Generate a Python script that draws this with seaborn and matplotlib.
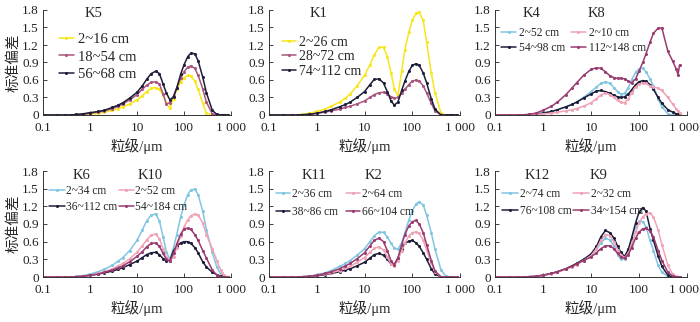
import numpy as np
import pandas as pd
import matplotlib
matplotlib.use("Agg")
import matplotlib.pyplot as plt
from matplotlib.ticker import NullLocator
from matplotlib.transforms import ScaledTranslation
import seaborn as sns

sns.set_style("ticks")
plt.rcParams["font.family"] = ["Liberation Serif", "Noto Sans CJK SC"]
plt.rcParams["xtick.direction"] = "in"
plt.rcParams["ytick.direction"] = "in"
plt.rcParams["axes.unicode_minus"] = False

nan = np.nan

# ---------------- data ----------------
size_um = [0.1, 0.2, 0.3, 0.4, 0.5, 0.7,
           1, 1.5, 2, 3, 4, 5, 7,
           10, 13, 16, 20, 25, 30, 36, 42, 50, 60, 70, 85,
           100, 120, 140, 170, 200, 250, 300, 400, 500, 600, 650, 700, 850]

x_ticks = [0.1, 1, 10, 100, 1000]
x_tick_labels = ["0.1", "1", "10", "100", "1 000"]
y_ticks = [0, 0.3, 0.6, 0.9, 1.2, 1.5, 1.8]
y_tick_labels = ["0", "0.3", "0.6", "0.9", "1.2", "1.5", "1.8"]

x_label = "粒级/μm"
y_label = "标准偏差"

# K5
k5_2_16 = [0, 0, 0, 0, 0, 0.005,
           0.015, 0.03, 0.05, 0.08, 0.11, 0.14, 0.19,
           0.26, 0.33, 0.40, 0.46, 0.47, 0.44, 0.34, 0.20, 0.12, 0.28, 0.44, 0.57,
           0.64, 0.68, 0.67, 0.58, 0.44, 0.20, 0.03, 0, 0, 0, 0, 0, 0]
k5_18_54 = [0, 0, 0, 0, 0.005, 0.01,
            0.03, 0.05, 0.07, 0.11, 0.15, 0.19, 0.26,
            0.35, 0.44, 0.51, 0.56, 0.57, 0.53, 0.36, 0.19, 0.21, 0.33, 0.47, 0.63,
            0.74, 0.82, 0.84, 0.80, 0.68, 0.45, 0.22, 0.02, 0, 0, 0, 0, 0]
k5_56_68 = [0, 0, 0, 0, 0.01, 0.02,
            0.04, 0.06, 0.08, 0.13, 0.17, 0.21, 0.29,
            0.39, 0.50, 0.61, 0.71, 0.75, 0.71, 0.53, 0.38, 0.26, 0.31, 0.46, 0.70,
            0.86, 1.00, 1.06, 1.05, 0.93, 0.65, 0.38, 0.08, 0.01, 0, 0, 0, 0]

# K1
k1_2_26 = [0, 0, 0, 0, 0.01, 0.03,
           0.06, 0.10, 0.15, 0.22, 0.29, 0.36, 0.50,
           0.68, 0.86, 1.03, 1.16, 1.16, 1.00, 0.72, 0.45, 0.33, 0.75, 1.12, 1.42,
           1.62, 1.75, 1.76, 1.62, 1.25, 0.72, 0.38, 0.03, 0, 0, 0, 0, 0]
k1_28_72 = [0, 0, 0, 0, 0.005, 0.01,
            0.03, 0.05, 0.07, 0.10, 0.13, 0.15, 0.19,
            0.24, 0.30, 0.35, 0.38, 0.39, 0.36, 0.31, 0.29, 0.30, 0.37, 0.44, 0.52,
            0.58, 0.60, 0.58, 0.50, 0.38, 0.20, 0.07, 0, 0, 0, 0, 0, 0]
k1_74_112 = [0, 0, 0, 0, 0.005, 0.01,
             0.03, 0.06, 0.09, 0.14, 0.18, 0.22, 0.30,
             0.40, 0.52, 0.61, 0.62, 0.55, 0.40, 0.24, 0.17, 0.22, 0.42, 0.58, 0.75,
             0.85, 0.88, 0.85, 0.72, 0.55, 0.28, 0.10, 0, 0, 0, 0, 0, 0]

# K4 / K8
k4_2_52 = [0, 0, 0, 0, 0.01, 0.02,
           0.04, 0.06, 0.09, 0.14, 0.18, 0.22, 0.30,
           0.40, 0.48, 0.54, 0.57, 0.54, 0.47, 0.40, 0.36, 0.37, 0.47, 0.60, 0.73,
           0.79, 0.80, 0.74, 0.62, 0.49, 0.28, 0.14, 0.02, 0, 0, 0, 0, nan]
k4_54_98 = [0, 0, 0, 0, 0.005, 0.015,
            0.03, 0.06, 0.09, 0.14, 0.18, 0.22, 0.29,
            0.36, 0.41, 0.42, 0.40, 0.37, 0.34, 0.31, 0.30, 0.31, 0.36, 0.43, 0.52,
            0.57, 0.59, 0.58, 0.52, 0.44, 0.30, 0.20, 0.09, 0.05, 0.02, 0.01, 0, nan]
k8_2_10 = [0, 0, 0, 0, 0, 0.01,
           0.02, 0.03, 0.05, 0.07, 0.09, 0.11, 0.15,
           0.21, 0.28, 0.34, 0.38, 0.35, 0.30, 0.25, 0.22, 0.21, 0.28, 0.38, 0.48,
           0.53, 0.55, 0.54, 0.50, 0.48, 0.46, 0.42, 0.30, 0.19, 0.10, 0.07, 0.04, nan]
k8_112_148 = [0, 0, 0, 0.005, 0.01, 0.03,
              0.08, 0.15, 0.22, 0.35, 0.46, 0.55, 0.68,
              0.78, 0.81, 0.80, 0.74, 0.67, 0.64, 0.63, 0.63, 0.62, 0.58, 0.55, 0.62,
              0.75, 0.90, 1.05, 1.25, 1.40, 1.49, 1.49, 1.09, 0.93, 0.78, 0.69, 0.86, nan]

# K6 / K10
k6_2_34 = [0, 0, 0, 0, 0.01, 0.02,
           0.05, 0.09, 0.13, 0.20, 0.27, 0.33, 0.45,
           0.62, 0.80, 0.95, 1.05, 1.07, 0.95, 0.68, 0.43, 0.30, 0.50, 0.72, 1.02,
           1.22, 1.40, 1.48, 1.49, 1.40, 1.12, 0.80, 0.42, 0.17, 0.05, 0.03, 0.01, 0]
k6_36_112 = [0, 0, 0, 0, 0.005, 0.01,
             0.03, 0.05, 0.07, 0.10, 0.13, 0.16, 0.21,
             0.27, 0.33, 0.38, 0.41, 0.42, 0.38, 0.31, 0.28, 0.28, 0.45, 0.52, 0.58,
             0.60, 0.60, 0.57, 0.50, 0.41, 0.26, 0.17, 0.08, 0.04, 0.01, 0.005, 0, 0]
k10_2_52 = [0, 0, 0, 0, 0.005, 0.01,
            0.03, 0.06, 0.09, 0.14, 0.19, 0.23, 0.31,
            0.42, 0.53, 0.63, 0.71, 0.73, 0.65, 0.48, 0.34, 0.27, 0.34, 0.50, 0.70,
            0.85, 0.97, 1.04, 1.07, 1.05, 0.92, 0.72, 0.48, 0.28, 0.12, 0.07, 0.03, 0]
k10_54_184 = [0, 0, 0, 0, 0.005, 0.01,
              0.03, 0.05, 0.08, 0.12, 0.16, 0.19, 0.26,
              0.35, 0.43, 0.51, 0.57, 0.58, 0.52, 0.40, 0.30, 0.27, 0.40, 0.56, 0.73,
              0.81, 0.83, 0.81, 0.72, 0.62, 0.45, 0.32, 0.12, 0.03, 0, 0, 0, 0]

# K11 / K2
k11_2_36 = [0, 0, 0, 0, 0.005, 0.01,
            0.04, 0.07, 0.11, 0.18, 0.23, 0.28, 0.37,
            0.48, 0.60, 0.70, 0.76, 0.76, 0.68, 0.57, 0.49, 0.47, 0.58, 0.75, 0.97,
            1.12, 1.24, 1.28, 1.22, 1.05, 0.75, 0.47, 0.12, 0.02, 0, 0, 0, 0]
k11_38_86 = [0, 0, 0, 0, 0.005, 0.01,
             0.02, 0.04, 0.06, 0.09, 0.12, 0.14, 0.19,
             0.25, 0.32, 0.38, 0.40, 0.37, 0.30, 0.22, 0.21, 0.32, 0.48, 0.57, 0.61,
             0.62, 0.58, 0.52, 0.41, 0.30, 0.14, 0.05, 0, 0, 0, 0, 0, 0]
k2_2_64 = [0, 0, 0, 0, 0.005, 0.01,
           0.03, 0.05, 0.07, 0.11, 0.15, 0.18, 0.25,
           0.33, 0.42, 0.49, 0.51, 0.46, 0.34, 0.22, 0.19, 0.28, 0.45, 0.58, 0.70,
           0.75, 0.77, 0.74, 0.62, 0.46, 0.24, 0.09, 0, 0, 0, 0, 0, 0]
k2_66_104 = [0, 0, 0, 0, 0.005, 0.01,
             0.03, 0.06, 0.09, 0.14, 0.19, 0.23, 0.31,
             0.41, 0.53, 0.62, 0.66, 0.60, 0.45, 0.27, 0.21, 0.32, 0.55, 0.72, 0.87,
             0.94, 0.96, 0.90, 0.75, 0.55, 0.28, 0.10, 0, 0, 0, 0, 0, 0]

# K12 / K9
k12_2_74 = [0, 0, 0, 0, 0.005, 0.01,
            0.03, 0.06, 0.09, 0.14, 0.18, 0.22, 0.29,
            0.37, 0.47, 0.58, 0.66, 0.63, 0.52, 0.38, 0.30, 0.31, 0.45, 0.64, 0.85,
            0.95, 0.94, 0.85, 0.62, 0.45, 0.20, 0.08, 0.01, 0, 0, 0, 0, nan]
k12_76_108 = [0, 0, 0, 0, 0.005, 0.01,
              0.03, 0.06, 0.09, 0.14, 0.19, 0.23, 0.30,
              0.39, 0.52, 0.68, 0.79, 0.75, 0.66, 0.52, 0.42, 0.35, 0.47, 0.66, 0.92,
              1.10, 1.18, 1.12, 0.82, 0.62, 0.36, 0.18, 0.03, 0, 0, 0, 0, nan]
k9_2_32 = [0, 0, 0, 0, 0.005, 0.01,
           0.03, 0.05, 0.08, 0.13, 0.17, 0.21, 0.28,
           0.36, 0.48, 0.62, 0.72, 0.70, 0.60, 0.46, 0.38, 0.33, 0.40, 0.55, 0.76,
           0.92, 1.02, 1.07, 1.09, 1.02, 0.80, 0.55, 0.20, 0.05, 0.01, 0, 0, nan]
k9_34_154 = [0, 0, 0, 0, 0.005, 0.01,
             0.03, 0.06, 0.09, 0.14, 0.18, 0.22, 0.28,
             0.34, 0.41, 0.48, 0.53, 0.53, 0.48, 0.40, 0.34, 0.32, 0.38, 0.50, 0.66,
             0.76, 0.82, 0.83, 0.78, 0.68, 0.45, 0.28, 0.08, 0.02, 0, 0, 0, nan]

# ---------------- style ----------------
YELLOW = "#F7E61A"
MAUVE = "#A8557F"
DARK = "#1F1E3A"
LBLUE = "#80C6E2"
PINK = "#F0A2B7"
MAGENTA = "#9A3B70"

W, H = 700, 322
fig = plt.figure(figsize=(W / 100, H / 100), dpi=100)


def px_axes(left, right, top, bottom):
    return fig.add_axes([left / W, (H - bottom) / H, (right - left) / W, (bottom - top) / H])


panels = [
    dict(box=(43, 231, 10, 115), ylab=True, edge=False,
         titles=[("K5", 0.223)],
         series=[("2~16 cm", k5_2_16, YELLOW), ("18~54 cm", k5_18_54, MAUVE), ("56~68 cm", k5_56_68, DARK)],
         leg=dict(ncol=1, anchor=(0.085, 0.78), fs=10.5, hl=1.0, htp=0.3, ls=0.28, cs=0.5)),
    dict(box=(269, 460, 10, 115), ylab=False, edge=False,
         titles=[("K1", 0.215)],
         series=[("2~26 cm", k1_2_26, YELLOW), ("28~72 cm", k1_28_72, MAUVE), ("74~112 cm", k1_74_112, DARK)],
         leg=dict(ncol=1, anchor=(0.068, 0.755), fs=10, hl=1.0, htp=0.2, ls=0.1, cs=0.5)),
    dict(box=(495, 687, 10, 115), ylab=False, edge=True,
         titles=[("K4", 0.146), ("K8", 0.484)],
         series=[("2~52 cm", k4_2_52, LBLUE), ("54~98 cm", k4_54_98, DARK),
                 ("2~10 cm", k8_2_10, PINK), ("112~148 cm", k8_112_148, MAGENTA)],
         leg=dict(ncol=2, anchor=(0.03, 0.84), fs=8.3, hl=1.35, htp=0.2, ls=0.3, cs=0.5)),
    dict(box=(43, 231, 171, 277), ylab=True, edge=False,
         titles=[("K6", 0.16), ("K10", 0.505)],
         series=[("2~34 cm", k6_2_34, LBLUE), ("36~112 cm", k6_36_112, DARK),
                 ("2~52 cm", k10_2_52, PINK), ("54~184 cm", k10_54_184, MAGENTA)],
         leg=dict(ncol=2, anchor=(0.032, 0.865), fs=8.3, hl=1.35, htp=0.1, ls=0.3, cs=0.15)),
    dict(box=(269, 460, 171, 277), ylab=False, edge=False,
         titles=[("K11", 0.171), ("K2", 0.503)],
         series=[("2~36 cm", k11_2_36, LBLUE), ("38~86 cm", k11_38_86, DARK),
                 ("2~64 cm", k2_2_64, PINK), ("66~104 cm", k2_66_104, MAGENTA)],
         leg=dict(ncol=2, anchor=(0.035, 0.84), fs=8.3, hl=1.2, htp=0.2, ls=0.55, cs=0.7)),
    dict(box=(495, 687, 171, 277), ylab=False, edge=True,
         titles=[("K12", 0.156), ("K9", 0.495)],
         series=[("2~74 cm", k12_2_74, LBLUE), ("76~108 cm", k12_76_108, DARK),
                 ("2~32 cm", k9_2_32, PINK), ("34~154 cm", k9_34_154, MAGENTA)],
         leg=dict(ncol=2, anchor=(0.037, 0.835), fs=8.3, hl=1.35, htp=0.2, ls=0.43, cs=0.15)),
]

for p in panels:
    ax = px_axes(*p["box"])
    ax.set_xscale("log")
    for lab, vals, col in p["series"]:
        df = pd.DataFrame({"x": size_um, "y": vals}).dropna()
        sns.lineplot(data=df, x="x", y="y", ax=ax, color=col, linewidth=1.1,
                     marker="o", markersize=2.2, markeredgewidth=0, label=lab)
    ax.set_xlim(0.1, 1000)
    ax.set_ylim(0, 1.8)
    ax.set_xticks(x_ticks)
    ax.set_xticklabels(x_tick_labels)
    ax.xaxis.set_minor_locator(NullLocator())
    ax.set_yticks(y_ticks)
    ax.set_yticklabels(y_tick_labels)
    ax.tick_params(axis="both", labelsize=9.5, length=3, width=0.6, pad=3, colors="#222222")
    ax.tick_params(axis="x", pad=5)
    if p["edge"]:
        last = ax.get_xticklabels()[-1]
        last.set_transform(last.get_transform() + ScaledTranslation(-3 / 100, 0, fig.dpi_scale_trans))
    for s in ["top", "right"]:
        ax.spines[s].set_visible(False)
    for s in ["left", "bottom"]:
        ax.spines[s].set_linewidth(0.7)
        ax.spines[s].set_color("#333333")
    ax.set_xlabel(x_label, fontsize=10.5, labelpad=3)
    if p["ylab"]:
        ax.set_ylabel(y_label, fontsize=10.5, labelpad=1)
    else:
        ax.set_ylabel("")
    for t, fx in p["titles"]:
        ax.text(fx, 0.962, t, transform=ax.transAxes, fontsize=10.5, va="center", ha="left")
    lg = p["leg"]
    ax.legend(loc="upper left", bbox_to_anchor=lg["anchor"], ncol=lg["ncol"], frameon=False,
              fontsize=lg["fs"], handlelength=lg["hl"], handletextpad=lg["htp"],
              labelspacing=lg["ls"], columnspacing=lg["cs"], borderpad=0, borderaxespad=0)

fig.savefig("out.png", dpi=100)
